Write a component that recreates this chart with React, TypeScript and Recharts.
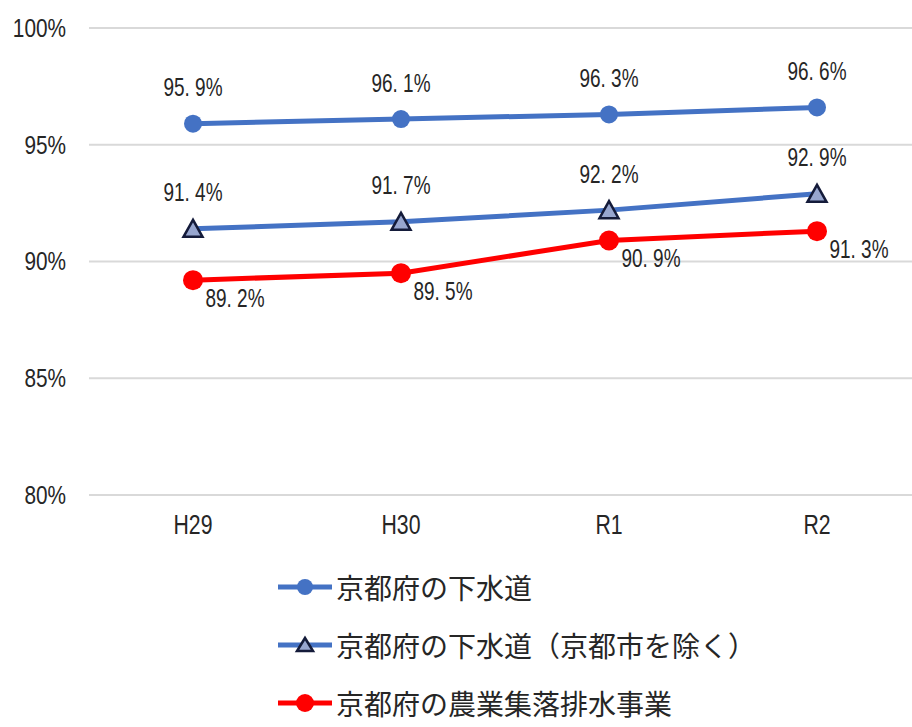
import { LineChart, Line, XAxis, YAxis, CartesianGrid, LabelList } from "recharts";

const categories = ["H29", "H30", "R1", "R2"];
const sewerAll = [95.9, 96.1, 96.3, 96.6];
const sewerExKyoto = [91.4, 91.7, 92.2, 92.9];
const ruralDrain = [89.2, 89.5, 90.9, 91.3];
const yTicks = [80, 85, 90, 95, 100];

const seriesNames = [
  "京都府の下水道",
  "京都府の下水道（京都市を除く）",
  "京都府の農業集落排水事業",
];

const data = categories.map((c, i) => ({
  name: c,
  a: sewerAll[i],
  b: sewerExKyoto[i],
  c: ruralDrain[i],
}));

const BLUE = "#4472C4";
const RED = "#FF0000";
const TRI_FILL = "#97a6cf";
const TRI_STROKE = "#141b3a";
const NUM_FONT = "'Liberation Sans', Arial, sans-serif";
const JP_FONT = "'Noto Sans CJK JP', sans-serif";
const TEXT = "#262626";

const fmt = (v: number) => v.toFixed(1).replace(".", ". ") + "%";

// narrow, tall digits like the original rendering
const NarrowText = ({ x, y, text, size, sx, anchor }: any) => (
  <g transform={`translate(${x},${y}) scale(${sx},1)`}>
    <text
      x={0}
      y={0}
      textAnchor={anchor}
      dominantBaseline="central"
      fontFamily={NUM_FONT}
      fontSize={size}
      fill={TEXT}
    >
      {text}
    </text>
  </g>
);

const YTick = ({ x, y, payload }: any) => (
  <NarrowText x={x} y={y} text={`${payload.value}%`} size={26} sx={0.8} anchor="end" />
);

const XTick = ({ x, y, payload }: any) => (
  <NarrowText x={x} y={y + 15} text={payload.value} size={28} sx={0.76} anchor="middle" />
);

const Triangle = ({ cx, cy }: any) => {
  if (cx == null || cy == null) return null;
  return (
    <polygon
      points={`${cx},${cy - 9} ${cx - 9.5},${cy + 8} ${cx + 9.5},${cy + 8}`}
      fill={TRI_FILL}
      stroke={TRI_STROKE}
      strokeWidth={2.5}
    />
  );
};

const makeLabel = (dx: number, dy: number) => (props: any) => {
  const { x, y, value } = props;
  return <NarrowText x={x + dx} y={y + dy} text={fmt(value)} size={25} sx={0.76} anchor="middle" />;
};

const LegendIcon = ({ kind }: { kind: number }) => (
  <svg width={58} height={24} style={{ display: "block" }}>
    <line x1={2} y1={12} x2={56} y2={12} stroke={kind === 2 ? RED : BLUE} strokeWidth={5} />
    {kind === 0 && <circle cx={29} cy={12} r={8} fill={BLUE} />}
    {kind === 1 && (
      <polygon points="29,5 21,18 37,18" fill={TRI_FILL} stroke={TRI_STROKE} strokeWidth={2.5} />
    )}
    {kind === 2 && <circle cx={29} cy={12} r={9} fill={RED} />}
  </svg>
);

export default function App() {
  return (
    <div
      style={{
        position: "absolute",
        left: 0,
        top: 0,
        width: 912,
        height: 727,
        overflow: "hidden",
        background: "#fff",
      }}
    >
      <LineChart
        width={925}
        height={727}
        data={data}
        margin={{ top: 28, right: 4, left: 0, bottom: 202 }}
      >
        <CartesianGrid horizontal vertical={false} stroke="#d9d9d9" strokeWidth={2} />
        <XAxis
          dataKey="name"
          axisLine={false}
          tickLine={false}
          tickSize={0}
          tickMargin={14}
          padding={{ left: 104, right: 104 }}
          tick={<XTick />}
        />
        <YAxis
          width={89}
          domain={[80, 100]}
          ticks={yTicks}
          interval={0}
          axisLine={false}
          tickLine={false}
          tickSize={0}
          tickMargin={23}
          tick={<YTick />}
        />
        <Line
          dataKey="a"
          stroke={BLUE}
          strokeWidth={5}
          dot={{ r: 9, fill: BLUE, stroke: BLUE, strokeWidth: 0 }}
          isAnimationActive={false}
        >
          <LabelList dataKey="a" content={makeLabel(0, -36)} />
        </Line>
        <Line
          dataKey="b"
          stroke={BLUE}
          strokeWidth={5}
          dot={<Triangle />}
          isAnimationActive={false}
        >
          <LabelList dataKey="b" content={makeLabel(0, -36)} />
        </Line>
        <Line
          dataKey="c"
          stroke={RED}
          strokeWidth={5}
          dot={{ r: 10, fill: RED, stroke: RED, strokeWidth: 0 }}
          isAnimationActive={false}
        >
          <LabelList dataKey="c" content={makeLabel(42, 18)} />
        </Line>
      </LineChart>
      <div style={{ position: "absolute", left: 276, top: 558 }}>
        {seriesNames.map((n) => (
          <div key={n} style={{ display: "flex", alignItems: "center", height: 58 }}>
            <LegendIcon kind={seriesNames.indexOf(n)} />
            <span
              style={{
                fontFamily: JP_FONT,
                fontSize: 28,
                color: TEXT,
                marginLeft: 2,
                lineHeight: "28px",
              }}
            >
              {n}
            </span>
          </div>
        ))}
      </div>
    </div>
  );
}
